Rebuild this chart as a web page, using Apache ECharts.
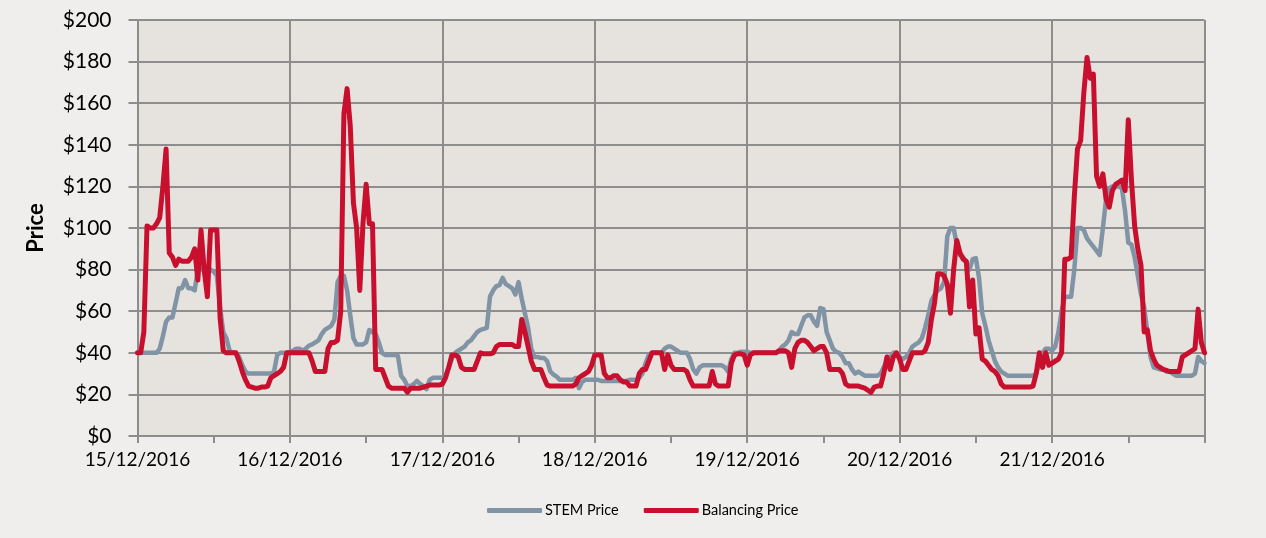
<!DOCTYPE html>
<html>
<head>
<meta charset="utf-8">
<script src="https://cdn.jsdelivr.net/npm/echarts@6/dist/echarts.min.js"></script>
<style>
html,body{margin:0;padding:0;background:#efeeec;}
#chart{width:1266px;height:538px;}
</style>
</head>
<body>
<div id="chart"></div>
<script>
// Half-hourly prices, 48 trading periods per day
const dayLabels = ['15/12/2016','16/12/2016','17/12/2016','18/12/2016','19/12/2016','20/12/2016','21/12/2016'];
const seriesNames = ['STEM Price','Balancing Price'];

const stem15 = [40,40,40,40,40,40,40,42,48,55,57,57,64,71,71,75,71,71,70,80,80,80,80,80,79,77,62,50,47,41,40,40,38,34,31,30,30,30,30,30,30,30,30,31,39,40,40,40];
const stem16 = [40.5,41,42,42,41,42,43.5,44,45,46,49,51,52,53,56,74,77,77,70,58,47,44,44,44,45,51,50,49,45,40,39,39,39,39,38.5,29,27,24,24,25,26.5,25,24,22.5,27,28,28,28];
const stem17 = [28,29,33,37,40,41,42,43,45,46,48,50,51,51.5,52,67,70,72,72.5,76,73,72,71,68,74,66,59,52,42,38,38,37.5,37.5,36,31,29.5,28.5,27,27,27,27,27,28,23,26,27,27,27];
const stem18 = [27,27,26.5,26.5,26.5,26.5,26.5,26.5,26.5,26.5,26.5,27,27,27,28,30,35,39,40,40,40,40,42,43,43,42,41,40,40,40,37,32,30,33,34,34,34,34,34,34,34,33,31,37,40,40,40.5,40.5];
const stem19 = [40.5,40,40,40,40,40,40,40,40,40,41,43,44,46,50,49,49,53,57,58,58,55,53,61.5,61,50,46,42,40.5,40,38,35,35,32,30,31,30,29,29,29,29,29,30,33,36,38,40,40];
const stem20 = [38,37,38,40,43,44,45,47,52,58,65,68,70,71,74,96,100,100,92,87,86,83,80,85,85.5,76,59,53,46,41,36,33,31,30,29,29,29,29,29,29,29,29,29,30,35,40,42,42];
const stem21 = [41,43,50,60,67,67,67,80,100,100,99,95,93,91,89,87,100,114,119,120,120,120,119,108,93,92,86,77,68,62,50,38,33,32.5,32,32,31,31,30,29,29,29,29,29,29,30,38,36,35];

const bal15 = [40,40,50,101,100,100,102,105,120,138,88,86,82,85,84,84,84,86,90,75,99,80,67,99,99,99,57,41,40,40,40,40,36,31,27,24,23.5,23,23,23.5,23.5,24,28,29,30,31,33,40];
const bal16 = [40,40,40,40,40,40,40,36,31,31,31,31,42,45,45,46,60,155,167,149,112,100,70,102,121,102,102,32,32,32,28,24,23,23,23,23,23,21,23,23,23,23,23.5,24,24.5,24.5,24.5,24.5];
const bal17 = [25,28,33,39,39,38,33,32,32,32,32,36,40,39.5,39.5,39.5,40,43,44,44,44,44,44,43,43,56,50,43,36,32,32,32,28,24.5,24,24,24,24,24,24,24,24,25,28,29,30,31,34];
const bal18 = [39,39,39,30,28,28,29,29,27,26,26,24,24,24,30,32,32,36,40,40,40,40,32,39,34,32,32,32,32,31,27,24,24,24,24,24,24,31,25,24,24,24,24,35,39,39.5,39.5,39];
const bal19 = [34,39,40,40,40,40,40,40,40,40,41,41,41,40,33,42,45,46,46,45,43,41,42,43,43,40,32,32,32,32,30,25,24,24,24,24,23.5,23,22,21,23.5,24,24,30,38,32,38,40];
const bal20 = [37,32,32,36,40,40,40,40,41,45,56,64,78,78,77,73,59,80,94,88,85,84,62,75,49,52,37,36,34,32,31,29,25,23.5,23.5,23.5,23.5,23.5,23.5,23.5,23.5,23.5,24,30,40,33,40,34];
const bal21 = [35,36,37,40,85,85,86,115,138,142,165,182,172,174,125,120,126,114,110,118,121,122,123,118,152,123,101,90,82,50,51,41,37,34,33,32,31.5,31,31,31,31,38,39,40,41,42,61,45,40];

const PER_DAY = 48;
const stem = [].concat(stem15, stem16, stem17, stem18, stem19, stem20, stem21);
const bal = [].concat(bal15, bal16, bal17, bal18, bal19, bal20, bal21);
const toPairs = arr => arr.map((v, i) => [i, v]);

const gridColor = '#8d8d8d';
const font = 'Lato, "Open Sans", sans-serif';

const chart = echarts.init(document.getElementById('chart'), null, {renderer: 'canvas'});
chart.setOption({
  backgroundColor: '#efeeec',
  animation: false,
  grid: {left: 137.5, right: 61.5, top: 20, bottom: 102, show: true, backgroundColor: '#e6e3df', borderWidth: 0},
  legend: {
    left: 482, top: 498,
    icon: 'roundRect', itemWidth: 55, itemHeight: 5, itemGap: 25,
    textStyle: {fontFamily: font, fontSize: 14.5, color: '#000', padding: [0, 0, 0, -2]},
    data: seriesNames
  },
  xAxis: {
    type: 'value', min: 0, max: PER_DAY * 7, interval: PER_DAY,
    axisLine: {show: true, onZero: false, lineStyle: {color: gridColor, width: 2}},
    axisTick: {show: true, length: 7, lineStyle: {color: gridColor, width: 2}},
    minorTick: {show: true, splitNumber: 2, length: 7, lineStyle: {color: gridColor, width: 2}},
    splitLine: {show: true, lineStyle: {color: gridColor, width: 2}},
    axisLabel: {
      formatter: v => dayLabels[Math.round(v / PER_DAY)] || '',
      color: '#000', fontFamily: font, fontSize: 19, margin: 14
    }
  },
  yAxis: {
    type: 'value', min: 0, max: 200, interval: 20,
    name: 'Price', nameLocation: 'middle', nameGap: 91,
    nameTextStyle: {fontFamily: font, fontWeight: 'bold', fontSize: 22, color: '#000'},
    axisLine: {show: true, lineStyle: {color: gridColor, width: 2}},
    axisTick: {show: true, length: 9, lineStyle: {color: gridColor, width: 2}},
    splitLine: {show: true, lineStyle: {color: gridColor, width: 2}},
    axisLabel: {formatter: v => '$' + v, color: '#000', fontFamily: font, fontSize: 21, margin: 26}
  },
  series: [
    {name: seriesNames[0], type: 'line', data: toPairs(stem), showSymbol: false, symbol: 'none',
     color: '#8094a6', lineStyle: {width: 4.5, color: '#8094a6', join: 'round', cap: 'round'}},
    {name: seriesNames[1], type: 'line', data: toPairs(bal), showSymbol: false, symbol: 'none',
     color: '#c8102e', lineStyle: {width: 5, color: '#c8102e', join: 'round', cap: 'round'}}
  ]
});
</script>
</body>
</html>
